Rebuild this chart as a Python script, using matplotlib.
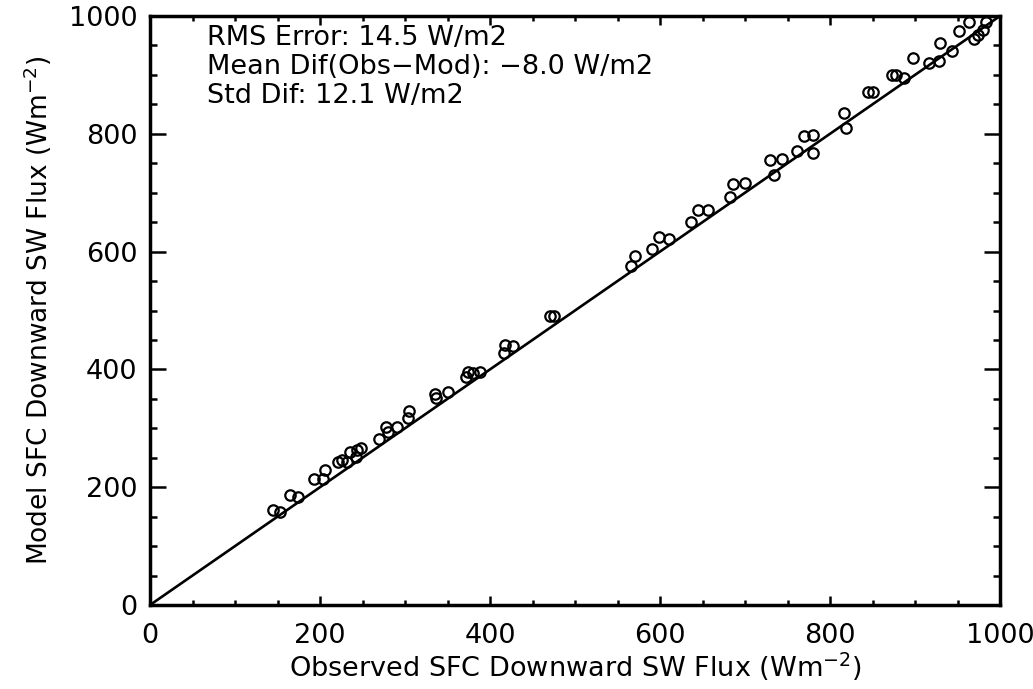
import matplotlib
matplotlib.use("Agg")
import matplotlib.pyplot as plt
from matplotlib.ticker import MultipleLocator

obs = [145, 153, 165, 174, 193, 204, 206, 221, 226, 232, 235, 242, 244, 248, 269, 278, 280, 290,
       303, 305, 335, 336, 350, 372, 374, 380, 388, 416, 418, 427, 471, 475,
       566, 571, 591, 599, 610, 636, 645, 657, 682, 686, 700, 729, 734, 743, 761, 769, 780, 780,
       817, 819, 845, 851, 873, 878, 887, 898, 917, 928, 929, 944, 952, 963, 969, 974, 980, 983]
model = [161, 158, 186, 184, 214, 214, 229, 242, 246, 243, 260, 252, 264, 266, 281, 303, 294, 302,
         317, 329, 359, 351, 361, 387, 396, 394, 396, 428, 441, 440, 491, 491,
         575, 592, 604, 624, 621, 650, 671, 671, 693, 715, 716, 756, 730, 758, 770, 797, 798, 768,
         835, 809, 871, 871, 900, 900, 895, 928, 921, 923, 954, 941, 975, 990, 961, 967, 976, 989]
line_x = [0, 1000]
line_y = [0, 1000]
stats = ["RMS Error: 14.5 W/m2",
         "Mean Dif(Obs\u2212Mod): \u22128.0 W/m2",
         "Std Dif: 12.1 W/m2"]
xlabel = "Observed SFC Downward SW Flux (Wm$^{-2}$)"
ylabel = "Model SFC Downward SW Flux (Wm$^{-2}$)"

fig = plt.figure(figsize=(10.33, 6.89), dpi=100)
ax = fig.add_axes([150/1033, (689-605)/689, 850/1033, 589/689])

ax.plot(line_x, line_y, color="black", lw=1.9, zorder=2)
ax.plot(obs, model, linestyle="none", marker="o", markersize=7.5,
        markerfacecolor="none", markeredgecolor="black", markeredgewidth=1.6, zorder=3)

ax.set_xlim(0, 1000)
ax.set_ylim(0, 1000)
ax.xaxis.set_major_locator(MultipleLocator(200))
ax.yaxis.set_major_locator(MultipleLocator(200))
ax.xaxis.set_minor_locator(MultipleLocator(50))
ax.yaxis.set_minor_locator(MultipleLocator(50))
ax.tick_params(which="both", direction="in", top=True, right=True, width=1.8, colors="black")
ax.tick_params(axis="x", which="major", length=6.5, labelsize=19.5, pad=13)
ax.tick_params(axis="x", which="minor", length=3.5)
ax.tick_params(axis="y", which="major", length=11.5, labelsize=19.5, pad=9)
ax.tick_params(axis="y", which="minor", length=5)
for s in ax.spines.values():
    s.set_linewidth(2.5)

ax.set_xlabel(xlabel, fontsize=19.5, labelpad=1)
ax.set_ylabel(ylabel, fontsize=19, labelpad=11)

baselines_px = [45, 74, 103]
for t, b in zip(stats, baselines_px):
    ax.text(0.067, (605 - b) / 589, t, transform=ax.transAxes, fontsize=19.5,
            va="baseline", ha="left")

fig.savefig("out.png", dpi=100)
